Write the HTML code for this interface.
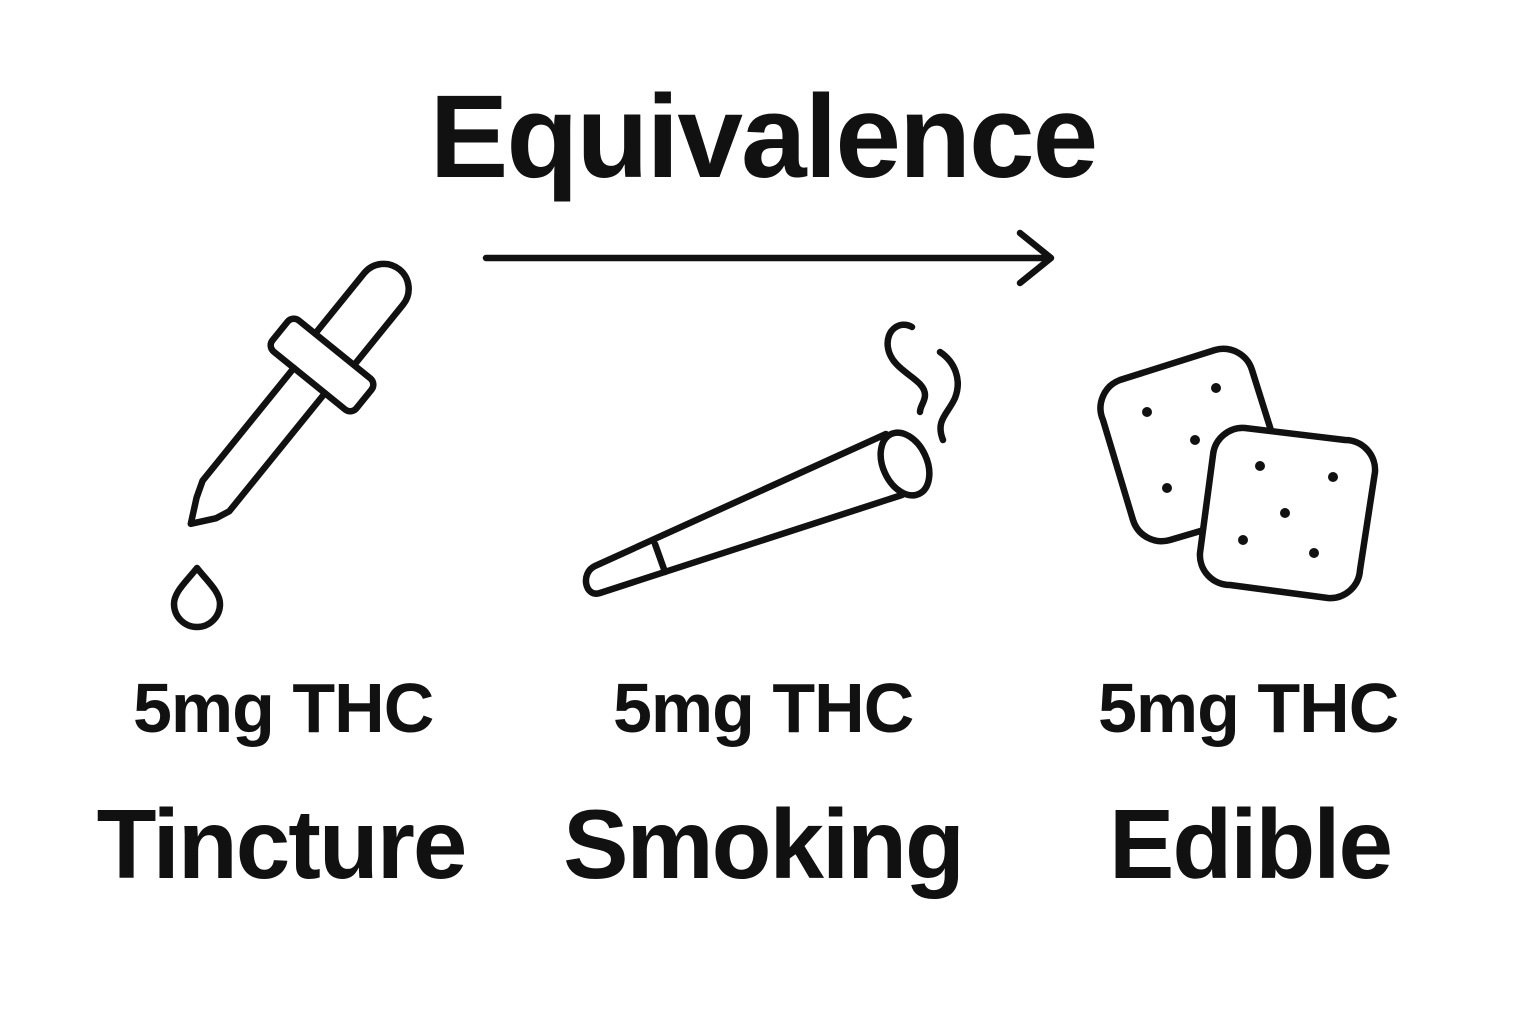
<!DOCTYPE html>
<html><head><meta charset="utf-8"><style>
html,body{margin:0;padding:0;background:#fff;}
body{width:1536px;height:1024px;position:relative;overflow:hidden;font-family:"Liberation Sans",Arial,sans-serif;color:#111;}
.t{position:absolute;font-weight:bold;text-align:center;white-space:nowrap;}
</style></head><body>
<div class="t" style="left:0;width:1526px;top:69px;font-size:118px;letter-spacing:-2px;">Equivalence</div>
<div class="t" style="left:133px;width:300px;top:668px;font-size:70px;letter-spacing:-1px;">5mg THC</div>
<div class="t" style="left:613px;width:300px;top:668px;font-size:70px;letter-spacing:-1px;">5mg THC</div>
<div class="t" style="left:1098px;width:300px;top:668px;font-size:70px;letter-spacing:-1px;">5mg THC</div>
<div class="t" style="left:81px;width:400px;top:788px;font-size:98px;letter-spacing:-2px;">Tincture</div>
<div class="t" style="left:563px;width:400px;top:788px;font-size:98px;letter-spacing:-2px;">Smoking</div>
<div class="t" style="left:1050px;width:400px;top:788px;font-size:98px;letter-spacing:-2px;">Edible</div>
<svg width="1536" height="1024" style="position:absolute;left:0;top:0" fill="none" stroke="#111" stroke-width="6.5" stroke-linecap="round" stroke-linejoin="round">
<line x1="486" y1="258" x2="1050" y2="258"/>
<polyline points="1020,233 1051,258 1020,283"/>
<!-- dropper -->
<g transform="translate(322,365) rotate(39)">
<path d="M-25,-20 L-25,-98 A25,25 0 0 1 25,-98 L25,-20"/>
<rect x="-54" y="-20" width="108" height="40" rx="8" fill="#fff"/>
<path d="M-20,20 L-20,165 L-14,182 L-2,206 L14,186 L20,172 L20,20"/>
</g>
<path d="M197,568 C186,582 174,592 174,604 A23,23 0 0 0 220,604 C220,592 208,582 197,568 Z"/>
<!-- joint -->
<path d="M886,434 L595,566 C580,573 585,598 600,593 L902,495"/>
<ellipse cx="905" cy="464" rx="22" ry="33" transform="rotate(-25 905 464)"/>
<line x1="655" y1="544" x2="665" y2="572"/>
<path d="M912,327 C900,320 885,330 888,348 C892,372 925,378 925,395 C925,402 920,406 920,412"/>
<path d="M940,352 C955,362 962,380 955,398 C948,414 935,420 943,440"/>
<!-- edibles -->
<path d="M1120,380 L1215,350 A30,30 0 0 1 1252,370 L1285,475 A30,30 0 0 1 1265,512 L1170,540 A30,30 0 0 1 1133,520 L1103,420 A30,30 0 0 1 1120,380 Z"/>
<path d="M1245,428 L1345,440 A30,30 0 0 1 1375,472 L1360,570 A30,30 0 0 1 1328,598 L1230,585 A30,30 0 0 1 1200,553 L1213,455 A30,30 0 0 1 1245,428 Z" fill="#fff"/>
<g fill="#111" stroke="none">
<circle cx="1147" cy="412" r="5"/><circle cx="1216" cy="388" r="5"/><circle cx="1195" cy="440" r="5"/><circle cx="1167" cy="488" r="5"/>
<circle cx="1260" cy="466" r="5"/><circle cx="1333" cy="477" r="5"/><circle cx="1285" cy="513" r="5"/><circle cx="1243" cy="540" r="5"/><circle cx="1314" cy="553" r="5"/>
</g>
</svg>
</body></html>
